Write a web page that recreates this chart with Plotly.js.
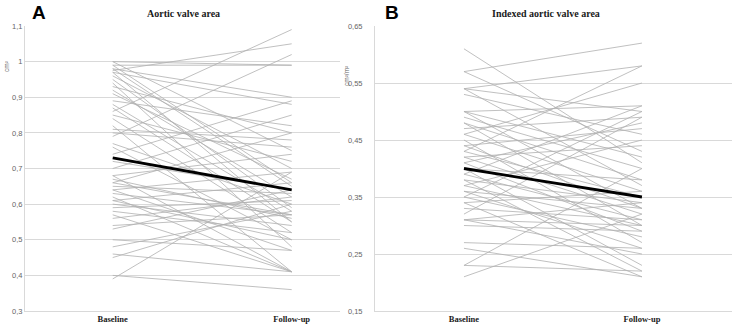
<!DOCTYPE html>
<html><head><meta charset="utf-8">
<script src="https://cdn.plot.ly/plotly-3.0.1.min.js"></script>
<style>html,body{margin:0;padding:0;background:#fff}#c{width:733px;height:325px}</style>
</head><body><div id="c"></div>
<script>
const categories = ["Baseline", "Follow-up"];

// Panel A: aortic valve area (cm²), one pair per patient
const avaBaseline = [1.00,0.99,0.975,0.98,0.97,1.00,0.99,0.96,0.93,0.92,0.89,0.88,0.87,0.86,0.85,0.82,0.80,0.79,0.77,0.76,0.74,0.72,0.70,0.68,0.68,0.67,0.66,0.65,0.64,0.64,0.63,0.62,0.61,0.60,0.59,0.58,0.57,0.56,0.54,0.53,0.50,0.48,0.46,0.45,0.40,0.39,0.95,0.91,0.84,0.81,0.97,0.94,0.98,0.66,0.61];
const avaFollowup = [0.99,0.99,1.05,0.90,0.88,0.75,0.66,0.70,0.80,0.62,0.82,0.58,0.55,1.09,0.72,0.41,0.76,1.02,0.60,0.50,0.89,0.64,0.85,0.41,0.74,0.56,0.80,0.63,0.47,0.69,0.57,0.41,0.66,0.54,0.61,0.52,0.41,0.62,0.57,0.64,0.47,0.58,0.41,0.60,0.36,0.69,0.59,0.67,0.52,0.78,0.55,0.48,0.65,0.57,0.50];
const avaMean = [0.73, 0.64];

// Panel B: indexed aortic valve area (cm²/m²)
const iavaBaseline = [0.61,0.57,0.57,0.54,0.54,0.54,0.53,0.50,0.50,0.50,0.49,0.48,0.47,0.46,0.45,0.44,0.43,0.43,0.42,0.41,0.41,0.40,0.39,0.39,0.38,0.38,0.37,0.37,0.36,0.35,0.35,0.34,0.34,0.33,0.32,0.31,0.31,0.31,0.30,0.27,0.26,0.23,0.23,0.21,0.46,0.42,0.48,0.36,0.40,0.44];
const iavaFollowup = [0.41,0.62,0.43,0.58,0.50,0.37,0.46,0.51,0.42,0.33,0.40,0.30,0.49,0.36,0.27,0.47,0.58,0.35,0.32,0.48,0.29,0.38,0.51,0.31,0.34,0.22,0.45,0.30,0.33,0.50,0.28,0.36,0.21,0.31,0.49,0.30,0.34,0.25,0.29,0.26,0.21,0.40,0.22,0.32,0.55,0.44,0.38,0.26,0.23,0.33];
const iavaMean = [0.40, 0.35];

const xs = [0, 1];
const traces = [];
function addPanel(base, foll, mean, xa, ya) {
  for (let i = 0; i < base.length; i++) {
    traces.push({x: xs, y: [base[i], foll[i]], xaxis: xa, yaxis: ya, mode: 'lines',
      line: {color: '#b0b0b0', width: 0.8}, hoverinfo: 'skip', showlegend: false});
  }
  traces.push({x: xs, y: mean, xaxis: xa, yaxis: ya, mode: 'lines',
    line: {color: '#000', width: 2.8}, showlegend: false});
}
addPanel(avaBaseline, avaFollowup, avaMean, 'x', 'y');
addPanel(iavaBaseline, iavaFollowup, iavaMean, 'x2', 'y2');

const W = 733, H = 325;
const yDom = [(H - 311) / H, (H - 26) / H];
const tickF = {family: 'Liberation Sans, Arial', size: 7.5, color: '#666666'};
const catF = {family: 'Liberation Serif, Times New Roman', size: 8.5, color: '#1a1a1a', weight: 'bold'};
const xBase = {tickvals: xs, ticktext: categories, tickfont: catF, showgrid: false, zeroline: false,
  showline: true, linecolor: '#d9d9d9', linewidth: 1, ticks: '', fixedrange: true};
const yBase = {showgrid: true, gridcolor: '#d9d9d9', gridwidth: 1, zeroline: false, showline: true,
  linecolor: '#d9d9d9', linewidth: 1, ticks: '', tickfont: tickF, fixedrange: true};

function ann(text, px, py, font, angle) {
  return {text: text, x: px / W, y: 1 - py / H, xref: 'paper', yref: 'paper', showarrow: false,
    xanchor: 'center', yanchor: 'middle', textangle: angle || 0, font: font, borderpad: 0};
}
const letterF = {family: 'Liberation Sans, Arial', size: 19, color: '#000'};
const titleF = {family: 'Liberation Serif, Times New Roman', size: 10, color: '#1a1a1a'};
const unitF = {family: 'Liberation Sans, Arial', size: 6.5, color: '#666666'};

const layout = {
  width: W, height: H, margin: {l: 0, r: 0, t: 0, b: 0},
  paper_bgcolor: '#fff', plot_bgcolor: '#fff', separators: ', ',
  xaxis: Object.assign({}, xBase, {domain: [25 / W, 340 / W], range: [-0.49, 1.27]}),
  yaxis: Object.assign({}, yBase, {domain: yDom, range: [0.3, 1.1], tick0: 0.3, dtick: 0.1}),
  xaxis2: Object.assign({}, xBase, {domain: [375 / W, 732 / W], range: [-0.5, 1.506], anchor: 'y2'}),
  yaxis2: Object.assign({}, yBase, {domain: yDom, range: [0.15, 0.65], tick0: 0.15, dtick: 0.1, anchor: 'x2', ticklabelstandoff: 10}),
  annotations: [
    ann('<b>A</b>', 39, 12, letterF),
    ann('<b>B</b>', 392, 12, letterF),
    ann('<b>Aortic valve area</b>', 183, 13, titleF),
    ann('<b>Indexed aortic valve area</b>', 546, 13, titleF),
    ann('cm²', 7, 66, unitF, -90),
    ann('cm²/m²', 347, 76, unitF, -90)
  ]
};
Plotly.newPlot('c', traces, layout, {displayModeBar: false, staticPlot: true});
</script></body></html>
